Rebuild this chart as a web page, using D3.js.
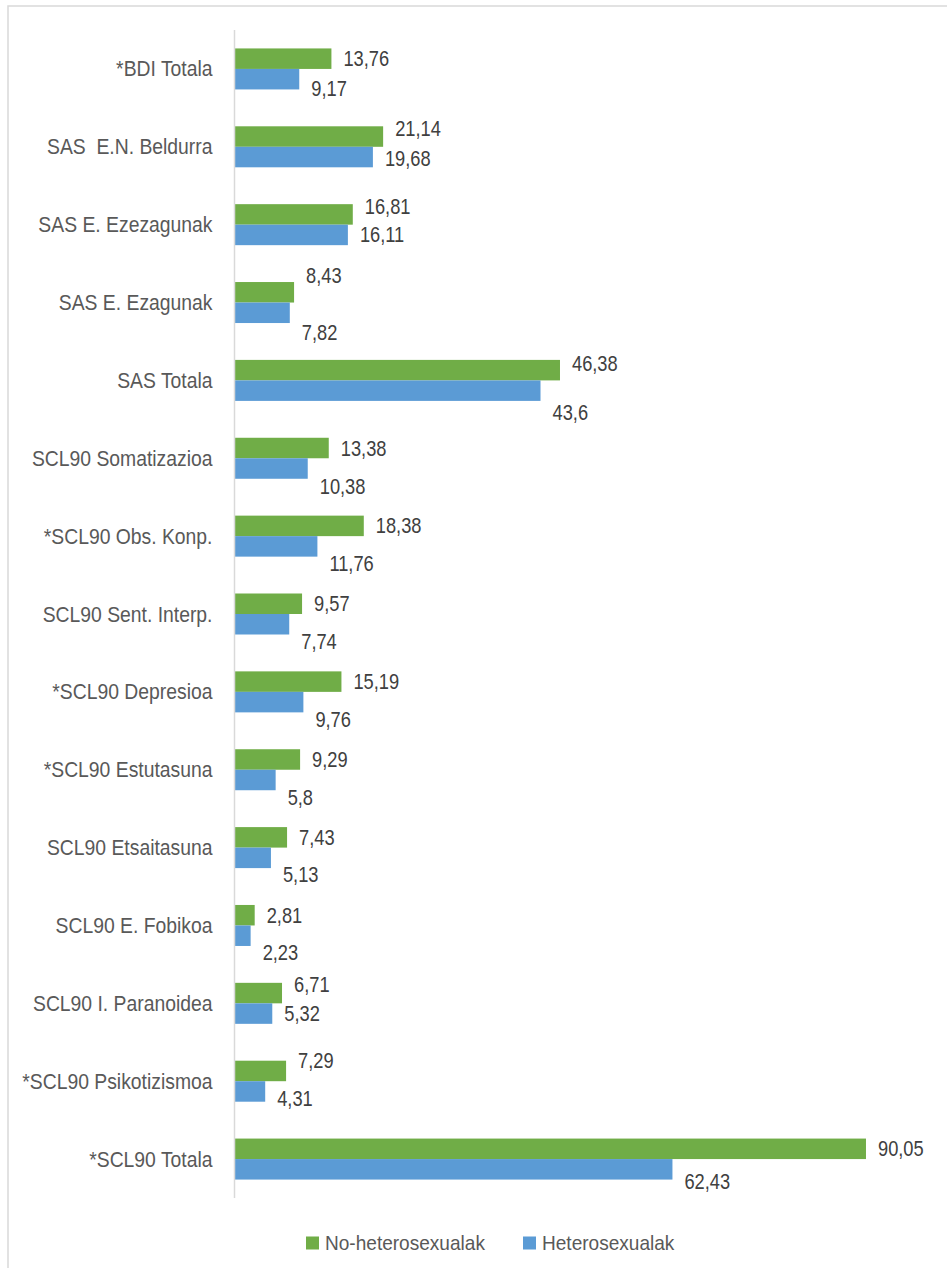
<!DOCTYPE html>
<html>
<head>
<meta charset="utf-8">
<script src="https://cdn.jsdelivr.net/npm/d3@7"></script>
<style>
  html, body { margin: 0; padding: 0; background: #fff; }
  svg { display: block; }
  text { font-family: "Liberation Sans", Arial, sans-serif; white-space: pre; }
</style>
</head>
<body>
<svg id="chart" width="947" height="1268"></svg>
<script>
// ---- data ----
const categories = [
  "*BDI Totala", "SAS  E.N. Beldurra", "SAS E. Ezezagunak", "SAS E. Ezagunak",
  "SAS Totala", "SCL90 Somatizazioa", "*SCL90 Obs. Konp.", "SCL90 Sent. Interp.",
  "*SCL90 Depresioa", "*SCL90 Estutasuna", "SCL90 Etsaitasuna", "SCL90 E. Fobikoa",
  "SCL90 I. Paranoidea", "*SCL90 Psikotizismoa", "*SCL90 Totala"
];
const noHetero = [13.76, 21.14, 16.81, 8.43, 46.38, 13.38, 18.38, 9.57, 15.19, 9.29, 7.43, 2.81, 6.71, 7.29, 90.05];
const hetero   = [9.17, 19.68, 16.11, 7.82, 43.6, 10.38, 11.76, 7.74, 9.76, 5.8, 5.13, 2.23, 5.32, 4.31, 62.43];
const seriesNames = ["No-heterosexualak", "Heterosexualak"];
// manual label nudges (vertical) as placed in the original chart
const nudgeGreen = [0, -8, -8, -17, -7, 0, 0, 0, 0, 0, 0, 0, -8.5, -10, 0];
const nudgeBlue  = [9, 1, 0, 20, 22, 18, 17, 17, 17, 17, 17, 17, 0, 7, 12.5];

// ---- layout ----
const svg = d3.select("#chart");
const colors = ["#70ad47", "#5b9bd5"];
const catFont = 21.5, catScale = 0.90;
const legFont = 20.5, legScale = 0.93;
const numFont = 21.5, numScale = 0.85;

// outer border
svg.append("rect").attr("x", 8).attr("y", 6).attr("width", 1000).attr("height", 1400)
  .attr("fill", "none").attr("stroke", "#d9d9d9").attr("stroke-width", 1.5);

const x = d3.scaleLinear().domain([0, 100]).range([235, 935.7]);
const y = d3.scaleBand().domain(categories).range([30, 1198]).padding(0);
const barH = 20.5;
const center = c => y(c) + y.bandwidth() / 2;
const fmt = v => String(v).replace(".", ",");

// bars
const groups = [noHetero, hetero];
groups.forEach((vals, s) => {
  svg.append("g").selectAll("rect").data(vals).join("rect")
    .attr("x", x(0))
    .attr("y", (d, i) => center(categories[i]) - (s === 0 ? barH : 0))
    .attr("width", d => x(d) - x(0))
    .attr("height", barH)
    .attr("fill", colors[s]);
});

// axis line
svg.append("line").attr("x1", x(0) - 0.5).attr("x2", x(0) - 0.5)
  .attr("y1", 30).attr("y2", 1198).attr("stroke", "#d9d9d9").attr("stroke-width", 1.5);

// category labels
svg.append("g").selectAll("text").data(categories).join("text")
  .attr("transform", d => `translate(212.5,${center(d)}) scale(${catScale},1)`)
  .attr("text-anchor", "end").attr("dy", "0.35em")
  .attr("font-size", catFont).attr("fill", "#595959")
  .text(d => d);

// value labels
groups.forEach((vals, s) => {
  const nudge = s === 0 ? nudgeGreen : nudgeBlue;
  svg.append("g").selectAll("text").data(vals).join("text")
    .attr("transform", (d, i) => {
      const cy = center(categories[i]) + (s === 0 ? -barH / 2 : barH / 2) + nudge[i];
      return `translate(${x(d) + 12},${cy}) scale(${numScale},1)`;
    })
    .attr("dy", "0.35em")
    .attr("font-size", numFont).attr("fill", "#404040")
    .text(d => fmt(d));
});

// legend
const legendX = [306, 523];
const legend = svg.append("g").selectAll("g").data(seriesNames).join("g")
  .attr("transform", (d, i) => `translate(${legendX[i]},1243)`);
legend.append("rect").attr("x", 0).attr("y", -6.5).attr("width", 13).attr("height", 13)
  .attr("fill", (d, i) => colors[i]);
legend.append("text")
  .attr("transform", `translate(19,0) scale(${legScale},1)`)
  .attr("dy", "0.35em").attr("font-size", legFont).attr("fill", "#595959")
  .text(d => d);
</script>
</body>
</html>
